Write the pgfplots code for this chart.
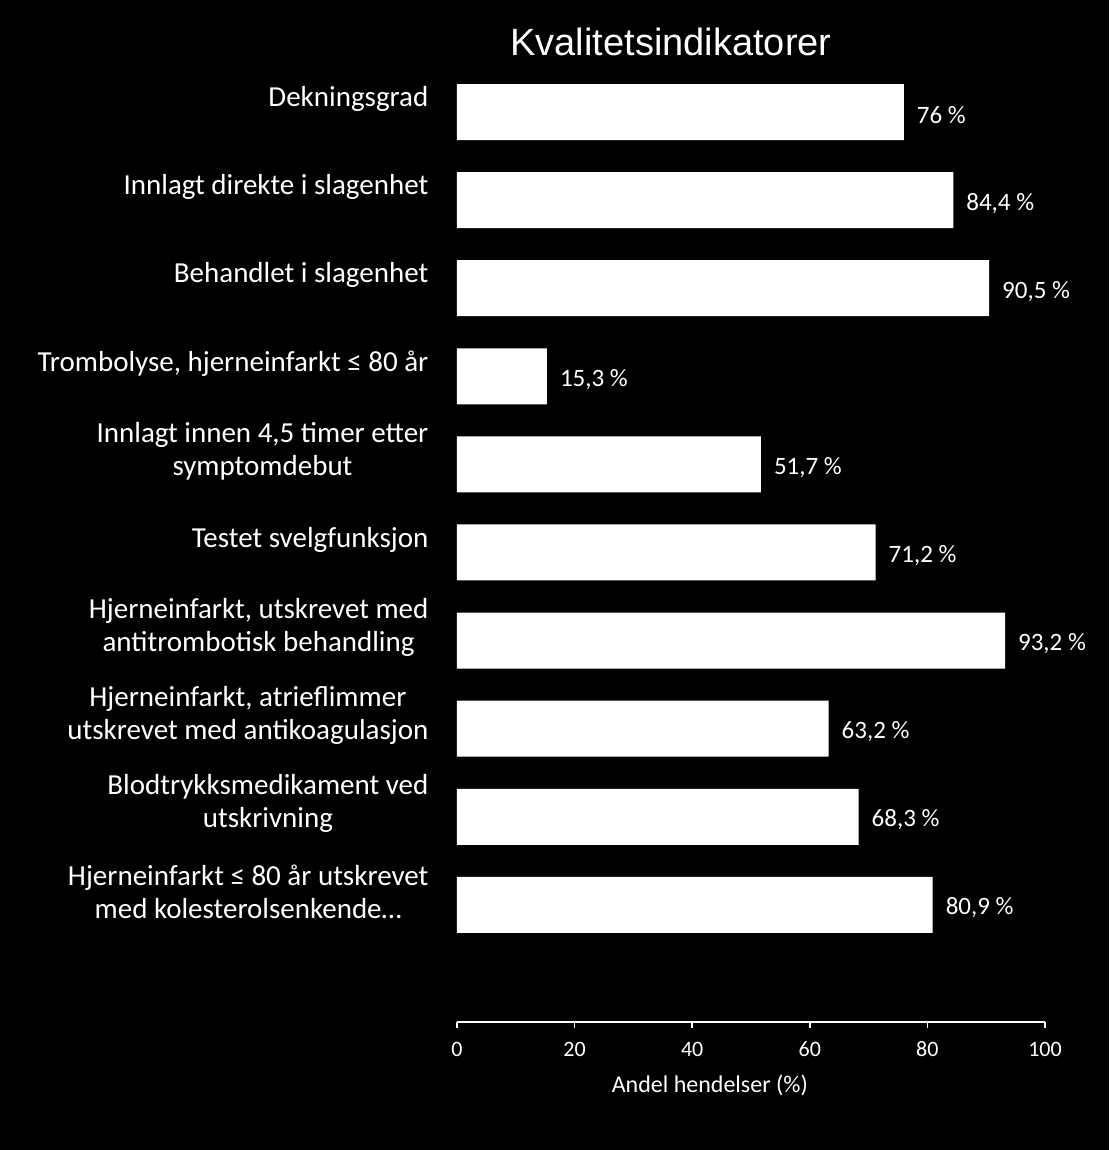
\documentclass[border=0pt]{standalone}
\usepackage{pgfplots}
\pgfplotsset{compat=1.18}
\usepackage{fontspec}
\setmainfont{Carlito}
\newfontfamily\titlefont{Liberation Sans}
\begin{document}
\begin{tikzpicture}
\fill[black] (-228.5pt,-64pt) rectangle (326pt,511pt);
\begin{axis}[
  scale only axis,
  width=294pt, height=477pt,
  xmin=0, xmax=100,
  ymin=-0.5, ymax=10.33,
  y dir=reverse,
  xbar, bar width=28pt,
  axis x line*=bottom, axis y line*=left,
  x axis line style={white, line width=0.8pt},
  y axis line style={draw=none},
  xtick={0,20,40,60,80,100},
  xtick align=outside,
  xtick style={white, line width=0.8pt},
  major tick length=3pt,
  ytick={0,...,9},
  ytick style={draw=none},
  yticklabels={
    {Dekningsgrad},
    {Innlagt direkte i slagenhet},
    {Behandlet i slagenhet},
    {Trombolyse, hjerneinfarkt ≤ 80 år},
    {Innlagt innen 4,5 timer etter\\symptomdebut},
    {Testet svelgfunksjon},
    {Hjerneinfarkt, utskrevet med\\antitrombotisk behandling},
    {Hjerneinfarkt, atrieflimmer\\utskrevet med antikoagulasjon},
    {Blodtrykksmedikament ved\\utskrivning},
    {Hjerneinfarkt ≤ 80 år utskrevet\\med kolesterolsenkende…}
  },
  yticklabel style={font=\fontsize{14.5}{16.5}\selectfont, text=white, align=center, anchor=east, xshift=-7.8pt, yshift=6.5pt},
  xticklabel style={font=\fontsize{11}{13}\selectfont, text=white, text height=7.5pt, text depth=0pt, anchor=north, yshift=-3pt},
  /pgf/number format/assume math mode=true,
  xlabel={Andel hendelser (\%)},
  xlabel style={font=\fontsize{12}{14}\selectfont, text=white, at={(axis description cs:0.43,0)}, anchor=center, yshift=-31.5pt},
  nodes near coords={\pgfmathprintnumber[use comma,fixed,precision=1,assume math mode=true]{\pgfplotspointmeta}~\%},
  point meta=x,
  nodes near coords style={font=\fontsize{12.5}{14}\selectfont, text=white, anchor=west, xshift=3pt, yshift=-1.5pt},
  clip=false,
]
\addplot[fill=white, draw=none] coordinates {
  (76,0) (84.4,1) (90.5,2) (15.3,3) (51.7,4) (71.2,5) (93.2,6) (63.2,7) (68.3,8) (80.9,9)
};
\end{axis}
\node[text=white, font=\titlefont\fontsize{19}{21}\selectfont] at (107pt,490pt) {Kvalitetsindikatorer};
\pgfresetboundingbox
\path[use as bounding box] (-228.5pt,-64pt) rectangle (326pt,511pt);
\end{tikzpicture}
\end{document}
